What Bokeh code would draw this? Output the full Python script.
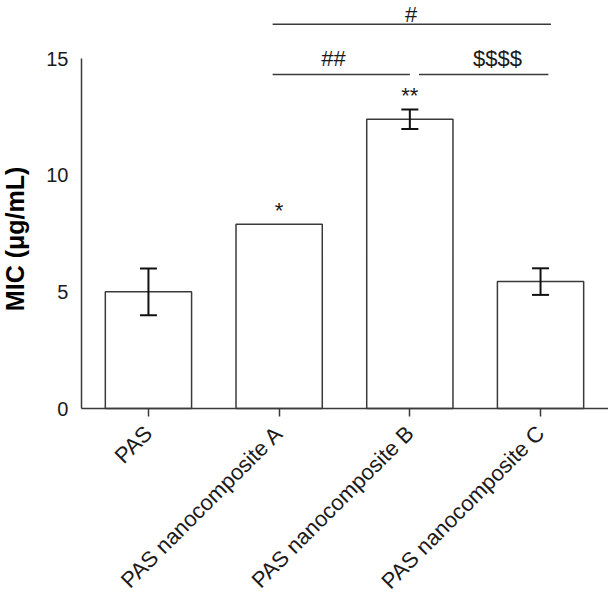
import math
from bokeh.plotting import figure
from bokeh.models import Range1d, FixedTicker, ColumnDataSource, Whisker, TeeHead
from bokeh.core.properties import value
from bokeh.embed import file_html
from bokeh.resources import INLINE

# ---- data ----
categories = ["PAS", "PAS nanocomposite A", "PAS nanocomposite B", "PAS nanocomposite C"]
mic = [5.0, 7.9, 12.4, 5.44]
sem = [1.0, None, 0.42, 0.57]
stars = ["", "*", "**", ""]
y_ticks = [0, 5, 10, 15]
y_label = "MIC (μg/mL)"

# significance brackets: (x start, x end, label x, label)
bracket_low = [(0.95, 2.0, 1.415, "##"), (2.07, 3.06, 2.67, "$$$$")]
bracket_high = [(0.95, 3.08, 2.01, "#")]
low_line_y, low_text_y = 14.32, 15.02
high_line_y, high_text_top = 16.47, 17.44

FONT = "Liberation Sans"
LINE = "#3a3a3a"
TXT = "#1a1a1a"

xs = list(range(len(categories)))
x_start, x_end = -1.132, 3.52      # whole canvas width
y_start, y_end = -7.93, 17.49      # whole canvas height
axis_x = -0.513                    # where the y axis sits

p = figure(width=608, height=593, output_backend="svg", toolbar_location=None,
           x_range=Range1d(x_start, x_end), y_range=Range1d(y_start, y_end),
           min_border_left=0, min_border_right=0, min_border_top=0, min_border_bottom=0)
p.outline_line_color = None
p.xgrid.visible = False
p.ygrid.visible = False
p.background_fill_color = "white"
p.border_fill_color = "white"

# bars
src = ColumnDataSource(dict(x=xs, top=mic))
p.vbar(x="x", top="top", width=0.66, bottom=0, source=src,
       fill_color="white", line_color=LINE, line_width=1.5)

# error bars
ex = [x for x, e in zip(xs, sem) if e is not None]
eu = [m + e for m, e in zip(mic, sem) if e is not None]
el = [m - e for m, e in zip(mic, sem) if e is not None]
esrc = ColumnDataSource(dict(base=ex, upper=eu, lower=el))
w = Whisker(base="base", upper="upper", lower="lower", source=esrc, level="annotation",
            line_color="#111111", line_width=2,
            upper_head=TeeHead(size=17, line_color="#111111", line_width=2),
            lower_head=TeeHead(size=17, line_color="#111111", line_width=2))
p.add_layout(w)

# stars above bars
star_gap = 0.58
sy = [m + (e if e is not None else 0) + star_gap for m, e in zip(mic, sem)]
p.text(x=xs, y=sy, text=stars, text_align="center", text_baseline="alphabetic",
       text_font=value(FONT), text_font_size="22px", text_color=TXT)

# brackets
for (x0, x1, tx, lab) in bracket_low:
    p.segment(x0=[x0], x1=[x1], y0=[low_line_y], y1=[low_line_y], line_color=LINE, line_width=1.5)
    p.text(x=[tx], y=[low_text_y], text=[lab], text_align="center", text_baseline="alphabetic",
           text_font=value(FONT), text_font_size="22px", text_color=TXT)
for (x0, x1, tx, lab) in bracket_high:
    p.segment(x0=[x0], x1=[x1], y0=[high_line_y], y1=[high_line_y], line_color=LINE, line_width=1.5)
    p.text(x=[tx], y=[high_text_top], text=[lab], text_align="center", text_baseline="top",
           text_font=value(FONT), text_font_size="22px", text_color=TXT)

# x axis (drawn at y = 0)
xa = p.xaxis[0]
xa.fixed_location = 0
xa.bounds = (axis_x, x_end)
xa.ticker = FixedTicker(ticks=xs)
xa.major_label_overrides = {i: c for i, c in enumerate(categories)}
xa.major_label_orientation = math.pi / 4
xa.major_label_text_font = FONT
xa.major_label_text_font_size = "22px"
xa.major_label_text_color = TXT
xa.major_tick_in = 0
xa.major_tick_out = 8
xa.minor_tick_line_color = None
xa.major_tick_line_color = LINE
xa.major_tick_line_width = 1.5
xa.axis_line_color = LINE
xa.axis_line_width = 1.5
xa.major_label_standoff = 13

# y axis (drawn at x = axis_x)
ya = p.yaxis[0]
ya.fixed_location = axis_x
ya.ticker = FixedTicker(ticks=y_ticks)
ya.bounds = (0, 15)
ya.major_tick_in = 0
ya.major_tick_out = 0
ya.major_tick_line_color = None
ya.minor_tick_line_color = None
ya.major_label_text_font = FONT
ya.major_label_text_font_size = "20px"
ya.major_label_text_color = TXT
ya.major_label_standoff = 13
ya.axis_line_color = LINE
ya.axis_line_width = 1.5

# y axis title
p.text(x=[-1.022], y=[7.27], text=[y_label], angle=math.pi / 2,
       text_align="center", text_baseline="middle",
       text_font=value(FONT), text_font_size="25px", text_font_style="bold",
       text_color="black")

open("out.html", "w").write(file_html(p, INLINE))
